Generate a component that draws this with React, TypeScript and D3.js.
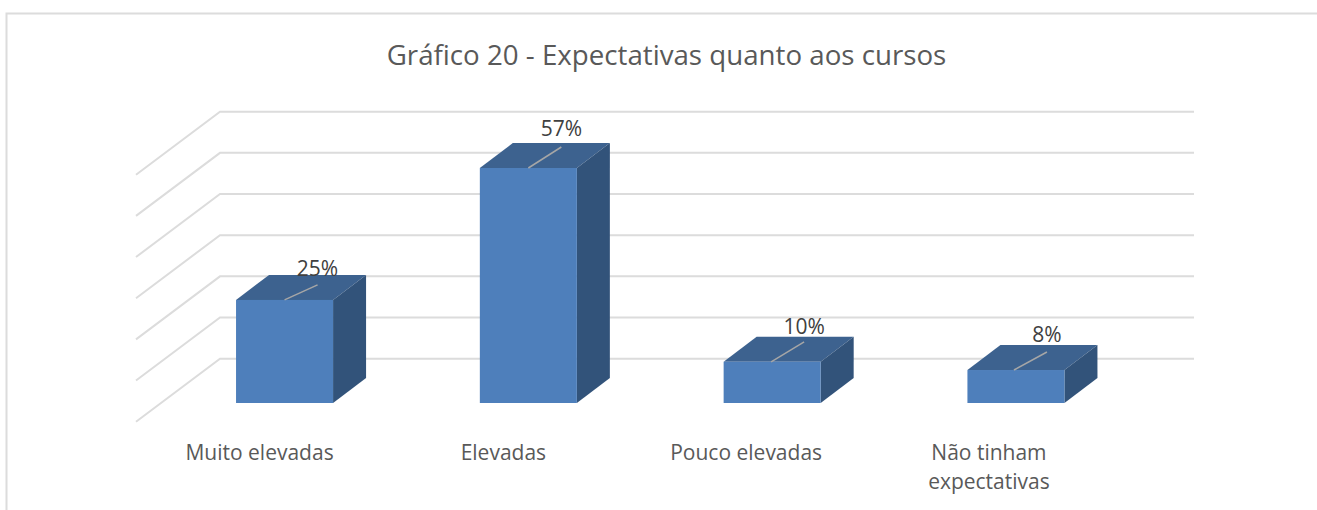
import React from "react";
import * as d3 from "d3";

const chartTitle = "Gráfico 20 - Expectativas quanto aos cursos";
const categories = ["Muito elevadas", "Elevadas", "Pouco elevadas", "Não tinham expectativas"];
const categoryLines = [["Muito elevadas"], ["Elevadas"], ["Pouco elevadas"], ["Não tinham", "expectativas"]];
const values = [25, 57, 10, 8];
const gridValues = [0, 10, 20, 30, 40, 50, 60];

const FONT = "'Open Sans', sans-serif";

export default function App() {
  const x = d3.scaleBand<string>().domain(categories).range([162.9, 1137.6]).paddingInner(0.602).paddingOuter(0.3);
  // front face of the bars
  const y = d3.scaleLinear().domain([0, 57]).range([403, 168]);
  // back wall gridlines
  const gy = d3.scaleLinear().domain([0, 60]).range([358.7, 111.7]);
  const depthX = 33, depthY = 25;
  const wallL = 220, wallR = 1194, floorDx = 84, floorDy = 63;
  const leaderRise = [15, 21, 20, 18];
  const leaderShift = [0, 0, -1, -2];
  const labelLift = [24, 32, 28, 28];
  const labelCentreShift = [-25, -25, -26, -27];
  const w = x.bandwidth();

  return (
    <svg width={1317} height={510} style={{ position: "absolute", left: 0, top: 0, background: "#fff", fontFamily: FONT }}>
      <path d="M1317 13.5H6.5V510" fill="none" stroke="#dcdcdc" strokeWidth={2} />
      <text x={666.5} y={65} textAnchor="middle" fontSize={27.7} fill="#595959">{chartTitle}</text>
      {gridValues.map((v) => (
        <path key={v} d={`M${wallL - floorDx} ${gy(v) + floorDy}L${wallL} ${gy(v)}H${wallR}`} fill="none" stroke="#dcdcdc" strokeWidth={2} />
      ))}
      {categories.map((c, i) => {
        const x0 = x(c)!, x1 = x0 + w, yt = y(values[i]), yb = y(0);
        const cx = x0 + w / 2;
        const lx = cx + leaderShift[i];
        return (
          <g key={c}>
            <path d={`M${x0} ${yt}L${x0 + depthX} ${yt - depthY}H${x1 + depthX}L${x1} ${yt}Z`} fill="#3d628f" />
            <path d={`M${x1} ${yt}L${x1 + depthX} ${yt - depthY}V${yb - depthY}L${x1} ${yb}Z`} fill="#32537a" />
            <rect x={x0} y={yt} width={w} height={yb - yt} fill="#4e7fbb" />
            <line x1={lx} y1={yt} x2={lx + depthX} y2={yt - leaderRise[i]} stroke="#a6a6a6" strokeWidth={1.5} />
            <text x={lx + depthX} y={yt - labelLift[i]} textAnchor="middle" fontSize={21} fill="#404040">{values[i]}%</text>
            <text textAnchor="middle" fontSize={21} fill="#595959">
              {categoryLines[i].map((t, k) => (
                <tspan key={k} x={cx + labelCentreShift[i]} y={460 + k * 29}>{t}</tspan>
              ))}
            </text>
          </g>
        );
      })}
    </svg>
  );
}
